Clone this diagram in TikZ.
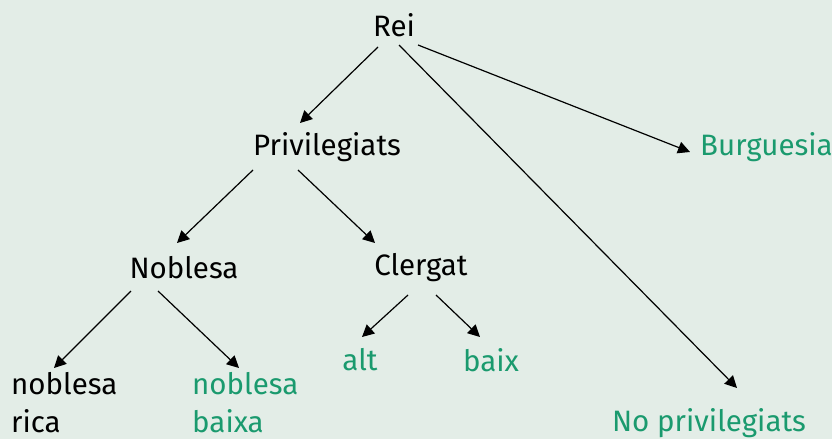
\documentclass[tikz,border=0pt]{standalone}
\usepackage{fontspec}
\setmainfont{Fira Sans}
\usetikzlibrary{calc, positioning, arrows.meta}
\definecolor{bgcol}{HTML}{E3EDE7}
\definecolor{verd}{HTML}{1A9A6E}

\begin{document}
\begin{tikzpicture}[x=1pt,y=-1pt,
  every node/.style={inner sep=0pt, font=\fontsize{29.5}{38}\selectfont},
  verd/.style={text=verd},
  fletxa/.style={line width=1.2pt, -{Triangle[length=12pt,width=12pt]}}]
\fill[bgcol] (0,0) rectangle (832,439);
\useasboundingbox (0,0) rectangle (832,439);

\node (rei) at (394,25) {Rei};
\node (priv) at (327,147) {Privilegiats};
\node[verd, anchor=west] (burg) at (700,147) {Burguesia};
\node (noblesa) at (184,268) {Noblesa};
\node (clergat) at (421,268) {Clergat};
\node[verd] (alt) at (360,360) {alt};
\node[verd] (baix) at (491,360) {baix};
\node[align=left, anchor=west] (rica) at (11,403) {noblesa\\rica};
\node[verd, align=left, anchor=west] (baixa) at (192,403) {noblesa\\baixa};
\node[verd] (nopriv) at (709,423) {No privilegiats};

\draw[fletxa] ($(rei)+(-16,22)$) -- ($(priv)+(-27,-24)$);
\draw[fletxa] ($(rei)+(24,20)$) -- ($(burg.west)+(-10,5)$);
\draw[fletxa] ($(rei)+(5,20)$) -- ($(nopriv)+(28,-35)$);
\draw[fletxa] ($(priv)+(-74,23)$) -- ($(noblesa)+(-7,-25)$);
\draw[fletxa] ($(priv)+(-29,23)$) -- ($(clergat)+(-46,-25)$);
\draw[fletxa] ($(noblesa)+(-53,23)$) -- ($(rica.west)+(43,-35)$);
\draw[fletxa] ($(noblesa)+(-26,23)$) -- ($(baixa.west)+(47,-35)$);
\draw[fletxa] ($(clergat)+(-13,27)$) -- ($(alt)+(2,-23)$);
\draw[fletxa] ($(clergat)+(15,27)$) -- ($(baix)+(-11,-23)$);
\end{tikzpicture}
\end{document}
